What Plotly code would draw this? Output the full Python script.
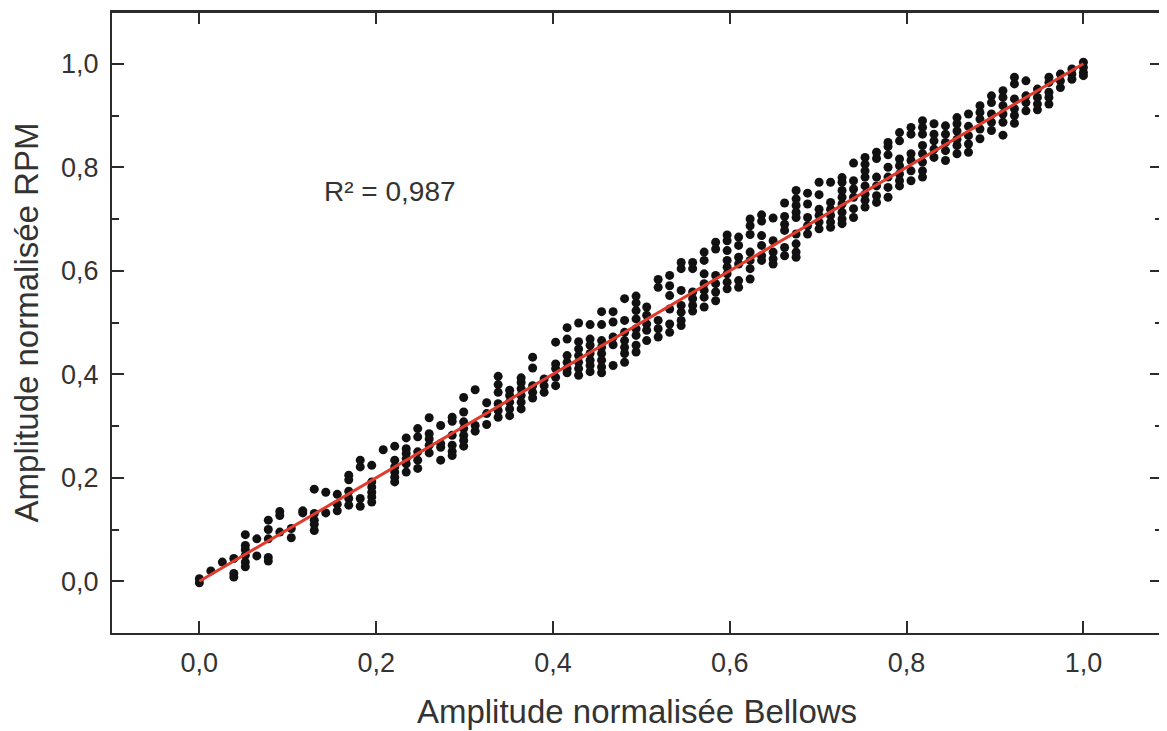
import plotly.graph_objects as go

column_x = [0, .013, .026, .039, .052, .065, .078, .091, .104, .117, .130, .143, .156, .169, .182, .195,
            .208, .221, .234, .247, .26, .273, .286, .299, .312, .325, .338, .351, .364, .377, .39, .403,
            .416, .429, .442, .455, .468, .481, .494, .506, .519, .532, .545, .558, .571, .584, .597, .61,
            .623, .636, .649, .662, .675, .688, .701, .714, .727, .74, .753, .766, .779, .792, .805, .818,
            .831, .844, .857, .87, .883, .896, .909, .922, .935, .948, .961, .974, .987, 1.0]

column_y = [
    [.005, -.003], [.02], [.037], [.044, .015, .008],
    [.09, .069, .061, .05, .037, .028], [.082, .049], [.118, .1, .082, .046, .039],
    [.135, .127, .095], [.102, .084], [.136, .132], [.178, .131, .118, .11, .098],
    [.172, .132], [.168, .149, .136], [.205, .196, .174, .16, .147], [.234, .221, .16, .145],
    [.224, .192, .182, .172, .163, .153], [.254], [.261, .234, .221, .211, .201, .192],
    [.277, .256, .247, .237, .227, .211], [.295, .279, .25, .234, .218],
    [.316, .285, .275, .263, .248], [.301, .266, .259, .234],
    [.317, .309, .282, .263, .251, .243], [.355, .327, .308, .295, .282, .272, .261],
    [.37, .301, .29], [.345, .324, .303], [.396, .38, .365, .343, .33, .317],
    [.369, .359, .346, .333, .32], [.393, .384, .372, .359, .346, .333],
    [.433, .412, .378, .365, .354], [.391, .378, .365], [.462, .42, .411, .394, .378],
    [.49, .468, .436, .423, .411, .403], [.499, .463, .449, .436, .423, .411, .398],
    [.496, .468, .456, .44, .427, .417, .405], [.521, .496, .465, .452, .44, .427, .414, .403],
    [.521, .501, .472, .457, .417], [.546, .504, .481, .465, .452, .44, .423],
    [.551, .538, .523, .507, .488, .475, .456, .443], [.53, .514, .497, .485, .465],
    [.583, .568, .504, .488, .472], [.591, .571, .552, .526, .497, .481],
    [.616, .604, .562, .533, .52, .504, .494], [.616, .604, .559, .546, .533, .522],
    [.636, .62, .594, .575, .562, .549, .53], [.655, .642, .591, .575, .559, .542],
    [.669, .658, .639, .62, .607, .594, .578, .565], [.665, .649, .626, .613, .581, .568],
    [.7, .687, .67, .636, .62, .604, .584], [.708, .696, .668, .649, .629, .62],
    [.702, .658, .636, .623, .613], [.731, .705, .69, .678, .645, .629],
    [.755, .739, .726, .713, .703, .671, .652, .636, .626], [.75, .729, .703, .687, .671],
    [.771, .747, .719, .707, .694, .681], [.771, .732, .719, .707, .694, .684],
    [.78, .771, .755, .742, .729, .713, .7, .691], [.808, .774, .758, .742, .72, .703],
    [.819, .806, .793, .781, .764, .748, .736, .723], [.829, .817, .781, .764, .745, .732],
    [.848, .84, .824, .8, .781, .761, .742], [.867, .851, .816, .803, .787, .774, .764],
    [.877, .864, .826, .813, .793, .774], [.89, .877, .864, .842, .826, .81, .793, .781],
    [.884, .864, .851, .835, .819], [.88, .864, .848, .832, .813],
    [.896, .884, .87, .854, .842, .826], [.903, .879, .861, .845, .829],
    [.919, .906, .893, .874, .855], [.938, .925, .903, .887, .871],
    [.948, .935, .919, .903, .887, .862], [.974, .961, .932, .913, .9, .885],
    [.967, .938, .925, .909], [.951, .935, .922, .911], [.974, .964, .945, .935, .922],
    [.98, .967, .954], [.99, .98, .97], [1.003, .993, .983, .977],
]

fit_x = [0.0, 1.0]
fit_y = [0.0, 1.0]

x_ticks = [0, 0.2, 0.4, 0.6, 0.8, 1.0]
y_ticks = [0, 0.2, 0.4, 0.6, 0.8, 1.0]
y_minor = [-0.1, 0.1, 0.3, 0.5, 0.7, 0.9, 1.1]
tick_labels = ["0,0", "0,2", "0,4", "0,6", "0,8", "1,0"]

points_x = [x for x, ys in zip(column_x, column_y) for _ in ys]
points_y = [y for ys in column_y for y in ys]

FONT = "Liberation Sans, Arial, sans-serif"
TXT = "#333333"
AXC = "#2b2b2b"

fig = go.Figure()
fig.add_trace(go.Scatter(x=points_x, y=points_y, mode="markers",
                         marker=dict(size=9, color="#111111"), showlegend=False))
fig.add_trace(go.Scatter(x=fit_x, y=fit_y, mode="lines", yaxis="y2",
                         line=dict(color="#e23b2e", width=3), showlegend=False))

fig.update_layout(
    width=1154, height=722,
    margin=dict(l=104, r=0, t=4, b=97, autoexpand=False),
    paper_bgcolor="white", plot_bgcolor="white",
    font=dict(family=FONT, color=TXT, size=28),
    showlegend=False,
    annotations=[dict(text="R² = 0,987", x=0.139, y=0.754, xref="x", yref="y", xanchor="left",
                      yanchor="middle", showarrow=False, font=dict(family=FONT, size=28, color=TXT))],
    yaxis2=dict(overlaying="y", side="right", anchor="x", range=[-0.1, 1.1], tickvals=y_ticks,
                showticklabels=False, showgrid=False, zeroline=False, showline=False,
                ticks="inside", ticklen=12, tickwidth=2, tickcolor=AXC,
                minor=dict(tickvals=y_minor, ticks="inside", ticklen=7, tickwidth=2, tickcolor=AXC)),
)
fig.update_xaxes(range=[-0.0988, 1.0889], tickvals=x_ticks, ticktext=tick_labels, showgrid=False, zeroline=False,
                 ticks="inside", ticklen=12, tickwidth=2, tickcolor=AXC, showline=True, linewidth=2.2,
                 linecolor=AXC, mirror="ticks", tickfont=dict(family=FONT, size=27, color=TXT),
                 ticklabelstandoff=4,
                 title=dict(text="Amplitude normalisée Bellows", standoff=24,
                            font=dict(family=FONT, size=33, color=TXT)))
fig.update_yaxes(selector=dict(overlaying=None), range=[-0.1, 1.1], tickvals=y_ticks, ticktext=tick_labels,
                 showgrid=False, zeroline=False,
                 ticks="inside", ticklen=12, tickwidth=2, tickcolor=AXC, showline=True, linewidth=2.2,
                 linecolor=AXC, tickfont=dict(family=FONT, size=27, color=TXT),
                 ticklabelstandoff=6,
                 minor=dict(tickvals=y_minor, ticks="inside", ticklen=7, tickwidth=2, tickcolor=AXC),
                 title=dict(text="Amplitude normalisée RPM", standoff=18,
                            font=dict(family=FONT, size=33, color=TXT)))

fig.add_shape(type="line", xref="paper", yref="paper", x0=0, x1=1, y0=1, y1=1, line=dict(color=AXC, width=2))

fig.write_html("out.html", config=dict(displayModeBar=False))
